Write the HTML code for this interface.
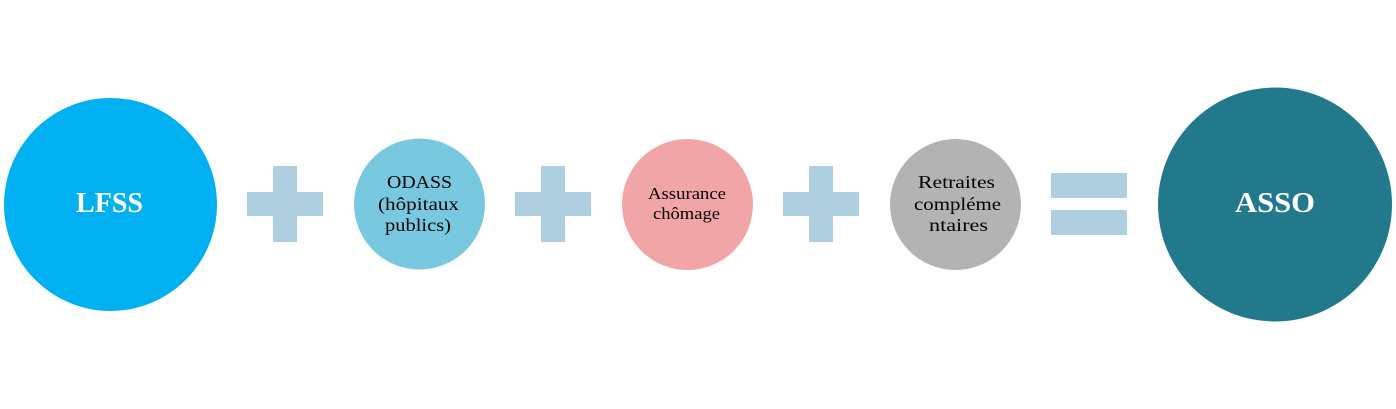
<!DOCTYPE html>
<html><head><meta charset="utf-8"><style>
html,body{margin:0;padding:0;background:#fff;}
svg{display:block;}
text{font-family:"Liberation Serif",serif;}
</style></head><body>
<svg width="1396" height="409" viewBox="0 0 1396 409" xmlns="http://www.w3.org/2000/svg">
<rect width="1396" height="409" fill="#fff"/>
<circle cx="110.5" cy="204.5" r="106.5" fill="#00b0f0"/>
<text x="76" y="212" font-size="28" font-weight="bold" fill="#fff" textLength="67" lengthAdjust="spacingAndGlyphs">LFSS</text>
<g fill="#aecfdf">
<rect x="273" y="166" width="24" height="76"/><rect x="247" y="192" width="76" height="24"/>
<rect x="541" y="166" width="24" height="76"/><rect x="515" y="192" width="76" height="24"/>
<rect x="809" y="166" width="24" height="76"/><rect x="783" y="192" width="76" height="24"/>
<rect x="1051" y="173" width="76" height="25"/><rect x="1051" y="210" width="76" height="25"/>
</g>
<circle cx="419.5" cy="204" r="65.5" fill="#78c9df"/>
<g font-size="18" fill="#000">
<text x="387" y="188" textLength="65" lengthAdjust="spacingAndGlyphs">ODASS</text>
<text x="378" y="210" textLength="81" lengthAdjust="spacingAndGlyphs">(hôpitaux</text>
<text x="385" y="231" textLength="66" lengthAdjust="spacingAndGlyphs">publics)</text>
</g>
<circle cx="687.5" cy="204.5" r="65.5" fill="#f2a5a7"/>
<g font-size="16.5" fill="#000">
<text x="648" y="199" textLength="78" lengthAdjust="spacingAndGlyphs">Assurance</text>
<text x="653" y="219" textLength="67" lengthAdjust="spacingAndGlyphs">chômage</text>
</g>
<circle cx="955.5" cy="204.5" r="65.5" fill="#b3b3b3"/>
<g font-size="18" fill="#000">
<text x="918" y="188" textLength="77" lengthAdjust="spacingAndGlyphs">Retraites</text>
<text x="914" y="210" textLength="87" lengthAdjust="spacingAndGlyphs">compléme</text>
<text x="929" y="231" textLength="59" lengthAdjust="spacingAndGlyphs">ntaires</text>
</g>
<circle cx="1275" cy="204.5" r="117" fill="#22798c"/>
<text x="1235" y="212" font-size="28" font-weight="bold" fill="#fff" textLength="80" lengthAdjust="spacingAndGlyphs">ASSO</text>
</svg>
</body></html>
